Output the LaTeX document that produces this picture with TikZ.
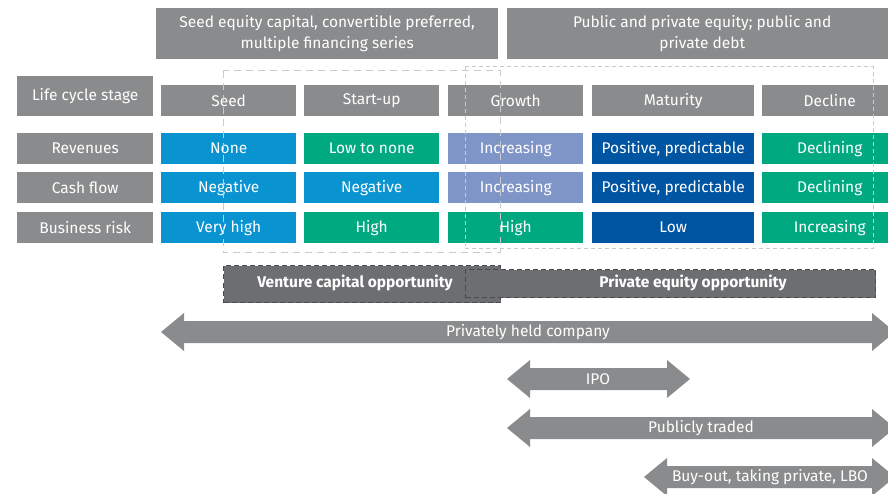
\documentclass[tikz,border=0pt]{standalone}
\usepackage{fontspec}
\setmainfont{Fira Sans}
\usepackage{xcolor}
\usetikzlibrary{positioning}
\definecolor{grigio}{HTML}{8A8B8C}
\definecolor{grigioscuro}{HTML}{6D6E71}
\definecolor{bordoscuro}{HTML}{4A4B4D}
\definecolor{tratteggio}{HTML}{C9CACB}
\definecolor{azzurro}{HTML}{0A93D1}
\definecolor{verde}{HTML}{00A980}
\definecolor{lilla}{HTML}{7F95C8}
\definecolor{blu}{HTML}{0055A2}
\newcommand{\frecciaDoppia}[3]{%
\fill[grigio] (#1,#3) -- ++(23,-19) -- ++(0,8) -- (#2-23,#3-11) -- ++(0,-8) -- (#2,#3) -- ++(-23,19) -- ++(0,-8) -- (#1+23,#3+11) -- ++(0,8) -- cycle;
}

\begin{document}
\begin{tikzpicture}[x=1pt, y=-1pt,
    cella/.style={anchor=north west, inner sep=0pt, text=white, minimum height=31pt, minimum width=135pt, font=\fontsize{15.5}{21}\selectfont},
    etichetta/.style={cella, fill=grigio, minimum width=136pt},
    opp/.style={anchor=north west, inner sep=0pt, fill=grigioscuro, draw=bordoscuro, line width=1pt, dash pattern=on 5pt off 3pt},
    opptesto/.style={text=white, font=\fontsize{15.5}{21}\selectfont\bfseries},
    freccetesto/.style={text=white, font=\fontsize{15.5}{21}\selectfont}]
    \useasboundingbox (0,0) rectangle (888,494);
    \clip (0,0) rectangle (888,494);
    % Parametri
    \pgfmathsetmacro{\ca}{161}
    \pgfmathsetmacro{\cb}{304}
    \pgfmathsetmacro{\cc}{448}
    \pgfmathsetmacro{\cd}{592}
    \pgfmathsetmacro{\ce}{762}
    \pgfmathsetmacro{\rs}{85}
    \pgfmathsetmacro{\rr}{133}
    \pgfmathsetmacro{\rc}{172}
    \pgfmathsetmacro{\rk}{212}
    % Finanziamento
    \node[cella, fill=grigio, minimum width=342pt, minimum height=51pt, align=center] (fin1) at (156,8) {Seed equity capital, convertible preferred,\\multiple financing series};
    \node[cella, fill=grigio, minimum width=390pt, minimum height=51pt, align=center] (fin2) at (507,8) {Public and private equity; public and\\private debt};
    % Etichette
    \node[etichetta, minimum height=40pt] (labstage) at (17,76) {Life cycle stage};
    \node[etichetta] (labrev) at (17,\rr) {Revenues};
    \node[etichetta] (labcash) at (17,\rc) {Cash flow};
    \node[etichetta] (labrisk) at (17,\rk) {Business risk};
    % Fasi
    \node[cella, fill=grigio] (seed) at (\ca,\rs) {Seed};
    \node[cella, fill=grigio] (startup) at (\cb,\rs) {Start-up};
    \node[cella, fill=grigio] (growth) at (\cc,\rs) {Growth};
    \node[cella, fill=grigio, minimum width=162pt] (maturity) at (\cd,\rs) {Maturity};
    \node[cella, fill=grigio] (decline) at (\ce,\rs) {Decline};
    % Ricavi
    \node[cella, fill=azzurro] (rev1) at (\ca,\rr) {None};
    \node[cella, fill=verde] (rev2) at (\cb,\rr) {Low to none};
    \node[cella, fill=lilla] (rev3) at (\cc,\rr) {Increasing};
    \node[cella, fill=blu, minimum width=162pt] (rev4) at (\cd,\rr) {Positive, predictable};
    \node[cella, fill=verde] (rev5) at (\ce,\rr) {Declining};
    % Flusso di cassa
    \node[cella, fill=azzurro] (cash1) at (\ca,\rc) {Negative};
    \node[cella, fill=azzurro] (cash2) at (\cb,\rc) {Negative};
    \node[cella, fill=lilla] (cash3) at (\cc,\rc) {Increasing};
    \node[cella, fill=blu, minimum width=162pt] (cash4) at (\cd,\rc) {Positive, predictable};
    \node[cella, fill=verde] (cash5) at (\ce,\rc) {Declining};
    % Rischio
    \node[cella, fill=azzurro] (risk1) at (\ca,\rk) {Very high};
    \node[cella, fill=verde] (risk2) at (\cb,\rk) {High};
    \node[cella, fill=verde] (risk3) at (\cc,\rk) {High};
    \node[cella, fill=blu, minimum width=162pt] (risk4) at (\cd,\rk) {Low};
    \node[cella, fill=verde] (risk5) at (\ce,\rk) {Increasing};
    % Riquadri tratteggiati
    \draw[tratteggio, line width=1pt, dash pattern=on 7pt off 5pt] (223,71) rectangle (500,253);
    \draw[tratteggio, line width=1pt, dash pattern=on 4pt off 3pt] (465,67) rectangle (873,249);
    % Opportunita
    \node[opp, minimum width=277pt, minimum height=37pt] (vcbox) at (223,265) {};
    \node[opp, minimum width=410pt, minimum height=28pt] (pebox) at (465,269) {};
    \node[opptesto] (vc) at (355,283) {Venture capital opportunity};
    \node[opptesto] (pe) at (693,283) {Private equity opportunity};
    % Frecce
    \frecciaDoppia{161}{895}{332}
    \frecciaDoppia{507}{690}{379}
    \frecciaDoppia{507}{895}{428}
    \frecciaDoppia{644}{895}{477}
    \node[freccetesto] (privato) at (528,332) {Privately held company};
    \node[freccetesto] (ipo) at (598,379) {IPO};
    \node[freccetesto] (pubblico) at (701,428) {Publicly traded};
    \node[freccetesto] (buyout) at (770,477) {Buy-out, taking private, LBO};
\end{tikzpicture}
\end{document}
